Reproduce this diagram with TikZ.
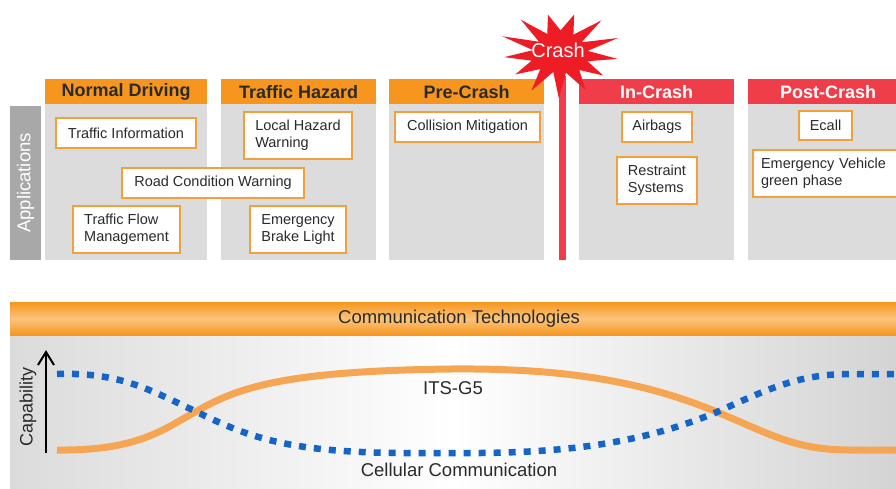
\documentclass[tikz,border=0pt]{standalone}
\usepackage{fontspec}
\setmainfont{Liberation Sans}
\usetikzlibrary{arrows.meta}
\definecolor{hdrorange}{HTML}{F7961E}
\definecolor{hdrred}{HTML}{EF3E4A}
\definecolor{panelgray}{HTML}{DCDCDC}
\definecolor{boxorange}{HTML}{F3A03A}
\definecolor{appgray}{HTML}{A8A8A8}
\definecolor{curveorange}{HTML}{F6A653}
\definecolor{dotblue}{HTML}{1565C8}
\definecolor{crashred}{HTML}{EE1C25}
\definecolor{txt}{HTML}{2A2A2A}
\definecolor{barlight}{HTML}{FBC47C}
\begin{document}
\begin{tikzpicture}[x=1pt,y=-1pt,
  hdr/.style={anchor=north west, inner sep=0pt, minimum height=25pt,
    font=\fontsize{18}{20}\selectfont\bfseries},
  hdrO/.style={hdr, fill=hdrorange, text=txt},
  hdrR/.style={hdr, fill=hdrred, text=white},
  panel/.style={fill=panelgray, anchor=north west, inner sep=0pt, minimum height=156pt},
  appbox/.style={draw=boxorange, line width=2pt, fill=white, inner sep=0pt,
    align=left, font=\fontsize{14.5}{17}\selectfont, text=txt},
  biglabel/.style={font=\fontsize{18.5}{21}\selectfont, text=txt, inner sep=0pt},
]
\useasboundingbox (0,0) rectangle (896,488);
\fill[white] (0,0) rectangle (896,488);

% panels
\node[panel, minimum width=162pt] (pND) at (45,104) {};
\node[panel, minimum width=155pt] (pTH) at (221,104) {};
\node[panel, minimum width=155pt] (pPC) at (389,104) {};
\node[panel, minimum width=155pt] (pIC) at (579,104) {};
\node[panel, minimum width=160pt] (pPO) at (748,104) {};

% headers
\node[hdrO, minimum width=162pt] (hND) at (45,79) {Normal Driving};
\node[hdrO, minimum width=155pt] (hTH) at (221,79) {Traffic Hazard};
\node[hdrO, minimum width=155pt] (hPC) at (389,79) {Pre-Crash};
\node[hdrR, minimum width=155pt] (hIC) at (579,79) {In-Crash};
\node[hdrR, minimum width=160pt, text width=148pt, align=center] (hPO) at (748,79) {Post-Crash};

% applications side bar
\node[fill=appgray, rotate=90, minimum width=154pt, minimum height=31pt, inner sep=0pt,
  text=white, font=\fontsize{18.5}{20}\selectfont] (apps) at (25.5,183) {Applications};

% application boxes
\node[appbox, minimum width=140pt, minimum height=30pt] (bTI) at (126,133) {Traffic Information};
\node[appbox, minimum width=108pt, minimum height=47pt] (bLH) at (298,135.5) {Local Hazard\\Warning};
\node[appbox, minimum width=182pt, minimum height=30pt] (bRC) at (213,183) {Road Condition Warning};
\node[appbox, minimum width=107pt, minimum height=47pt] (bTF) at (126.5,229.5) {Traffic Flow\\Management};
\node[appbox, minimum width=96pt, minimum height=47pt] (bEB) at (298,229.5) {Emergency\\Brake Light};
\node[appbox, minimum width=145pt, minimum height=30pt] (bCM) at (467.5,127) {Collision Mitigation};
\node[appbox, minimum width=70pt, minimum height=30pt] (bAB) at (657,127) {Airbags};
\node[appbox, minimum width=80pt, minimum height=47pt] (bRS) at (657,180.5) {Restraint\\Systems};
\node[appbox, minimum width=53pt, minimum height=29pt] (bEC) at (825.5,125.5) {Ecall};
\node[appbox, anchor=west, inner xsep=8pt, text width=140pt, minimum height=47pt] (bEV) at (752,173.5)
  {Emergency Vehicle\\green phase};

% crash bar and star
\node[fill=hdrred, draw=white, line width=0.8pt, minimum width=8pt, minimum height=185pt,
  inner sep=0pt, anchor=north] (crashbar) at (562.5,75) {};
\fill[crashred] plot[domain=0:25, samples=26, variable=\t]
  ({560+(58-30*mod(round(\t),2))*(1+0.08*sin(\t*137))*cos(\t*360/26+8)},
   {53+(42-21*mod(round(\t),2))*(1+0.08*sin(\t*137))*sin(\t*360/26+8)}) -- cycle;
\node[text=white, font=\fontsize{20}{22}\selectfont, inner sep=0pt] (crash) at (558,50) {Crash};

% communication technologies
\node[anchor=north west, minimum width=886pt, minimum height=153pt, inner sep=0pt,
  left color=gray!28, right color=gray!34, middle color=white] (techpanel) at (10,335) {};
\node[anchor=north west, minimum width=886pt, minimum height=33pt, inner sep=0pt,
  top color=hdrorange, bottom color=hdrorange, middle color=barlight] (commbar) at (10,302) {};
\node[biglabel] (commlabel) at (459,319) {Communication Technologies};

% curves
\draw[curveorange, line width=7pt]
  (57,450) .. controls (140,451) and (165,428) .. (197,411)
  .. controls (240,386) and (290,371) .. (450,369)
  .. controls (560,368) and (640,380) .. (717,412)
  .. controls (770,434) and (795,450) .. (850,450) -- (896,450);
\draw[dotblue, line width=6.5pt, dash pattern=on 7pt off 8pt]
  (57,374) .. controls (120,372) and (150,390) .. (197,412)
  .. controls (250,438) and (290,452) .. (400,453) -- (480,453)
  .. controls (580,452) and (650,440) .. (717,412)
  .. controls (770,388) and (800,374) .. (850,374) -- (896,374);

\node[biglabel] (its) at (453,388) {ITS-G5};
\node[biglabel] (cell) at (459,470) {Cellular Communication};

% capability axis
\coordinate (capB) at (46,453);
\coordinate (capT) at (46,352);
\draw[line width=2pt] (capB) -- (capT);
\draw[line width=2pt, line join=miter] (capT) ++(-8,13) -- (capT) -- ++(8,13);
\node[biglabel, rotate=90, font=\fontsize{18}{20}\selectfont] (cap) at (28,407) {Capability};
\end{tikzpicture}
\end{document}
